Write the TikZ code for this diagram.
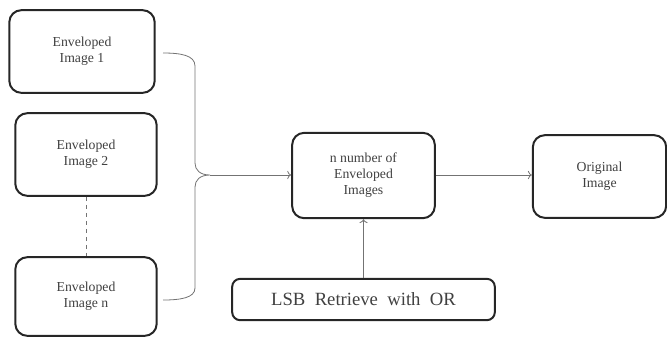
\documentclass[tikz,border=0pt]{standalone}
\usepackage{fontspec}
\setmainfont{Liberation Serif}
\usetikzlibrary{arrows.meta}

\tikzset{
	envbox/.style={draw=black!85, line width=1.5pt, rounded corners=9pt, align=center,
		text=black!75, font=\fontsize{10.3}{12}\selectfont, inner sep=2pt},
	link/.style={draw=black!55, line width=0.6pt},
}

\begin{document}
\begin{tikzpicture}[x=0.75pt, y=-0.75pt]
	\useasboundingbox (0,0) rectangle (667,337);
	% enveloped images on the left
	\node[envbox, minimum width=109pt, minimum height=62pt] (env1) at (82,51.5) {Enveloped\\Image 1};
	\node[envbox, minimum width=106pt, minimum height=62pt] (env2) at (86,154.5) {Enveloped\\Image 2};
	\node[envbox, minimum width=106pt, minimum height=59pt] (envn) at (86,296.5) {Enveloped\\Image n};
	\draw[link, dashed] (env2.south) -- (envn.north);
	%
	\node[envbox, minimum width=107pt, minimum height=64pt] (many) at (363.5,175.5) {n number of\\Enveloped\\Images};
	\node[envbox, minimum width=100pt, minimum height=62pt] (orig) at (599.5,176.5) {Original\\Image};
	\node[envbox, minimum width=197pt, minimum height=31pt, rounded corners=6pt,
		font=\fontsize{14}{16}\selectfont] (lsb) at (363.5,299.5) {LSB\ \ Retrieve\ \ with\ \ OR};
	% brace joining the enveloped images
	\coordinate (top) at (163,53);
	\coordinate (bot) at (163,300);
	\coordinate (tip) at (210,175);
	\draw[link] (top) .. controls (180,53) and (195,55) .. (195,66) -- (195,163)
		.. controls (195,170) and (200,175) .. (tip)
		.. controls (200,175) and (195,180) .. (195,187) -- (195,288)
		.. controls (195,298) and (180,300) .. (bot);
	\draw[link, ->] (tip) -- (tip -| many.west);
	\draw[link, ->] (many.east |- tip) -- (tip -| orig.west);
	\draw[link, ->] (lsb.north) -- (many.south);
\end{tikzpicture}
\end{document}
